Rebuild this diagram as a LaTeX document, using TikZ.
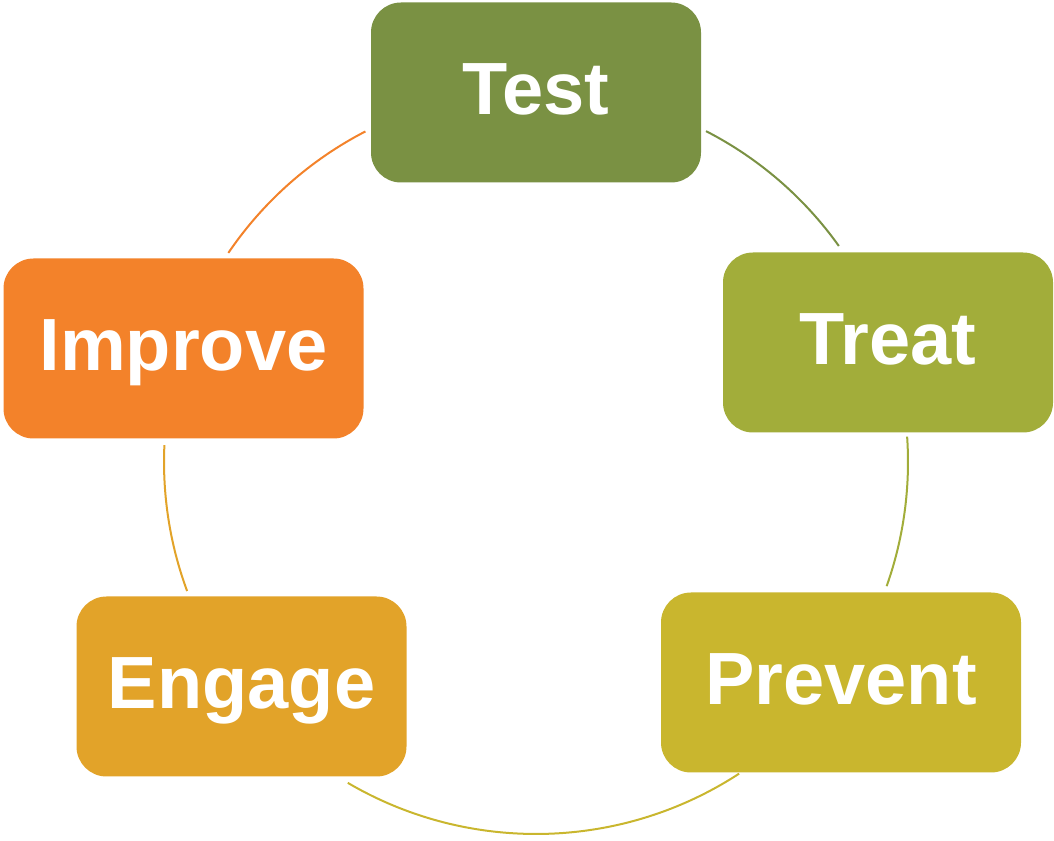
\documentclass[tikz,border=0pt]{standalone}
\usepackage{fontspec}
\setmainfont{Liberation Sans}
\usetikzlibrary{positioning}
\definecolor{cTest}{HTML}{7A9143}
\definecolor{cTreat}{HTML}{A2AD3A}
\definecolor{cPrevent}{HTML}{C9B62E}
\definecolor{cEngage}{HTML}{E2A329}
\definecolor{cImprove}{HTML}{F3822A}
\begin{document}
\begin{tikzpicture}[x=1pt,y=1pt,
	box/.style={rectangle,rounded corners=30pt,minimum width=330pt,minimum height=180pt,
		inner sep=0pt,text=white,font=\fontsize{74}{80}\selectfont\bfseries,
		text height=53pt,text depth=8pt},
	wide/.style={minimum width=360pt},
	ring/.style={line width=2pt}]
		\useasboundingbox (0,0) rectangle (1054,840);
		\coordinate (cc) at (536,378);

		\node[box,fill=cTest] (qTest) at (536,747.5) {Test};
		\node[box,fill=cTreat] (qTreat) at (888,497.5) {Treat};
		\node[box,wide,fill=cPrevent] (qPrevent) at (841,157.5) {Prevent};
		\node[box,fill=cEngage] (qEngage) at (241.5,153.5) {Engage};
		\node[box,wide,fill=cImprove] (qImprove) at (183.5,491.5) {Improve};

		% cycle arcs, radius 372 round cc
		\draw[ring,cTest] ([shift={(62.8:372)}]cc) arc[start angle=62.8,end angle=35.5,radius=372];
		\draw[ring,cTreat] ([shift={(3.9:372)}]cc) arc[start angle=3.9,end angle=-19.5,radius=372];
		\draw[ring,cPrevent] ([shift={(-56.9:372)}]cc) arc[start angle=-56.9,end angle=-120.4,radius=372];
		\draw[ring,cEngage] ([shift={(200.3:372)}]cc) arc[start angle=200.3,end angle=177.4,radius=372];
		\draw[ring,cImprove] ([shift={(145.8:372)}]cc) arc[start angle=145.8,end angle=117.3,radius=372];
	\end{tikzpicture}
\end{document}
